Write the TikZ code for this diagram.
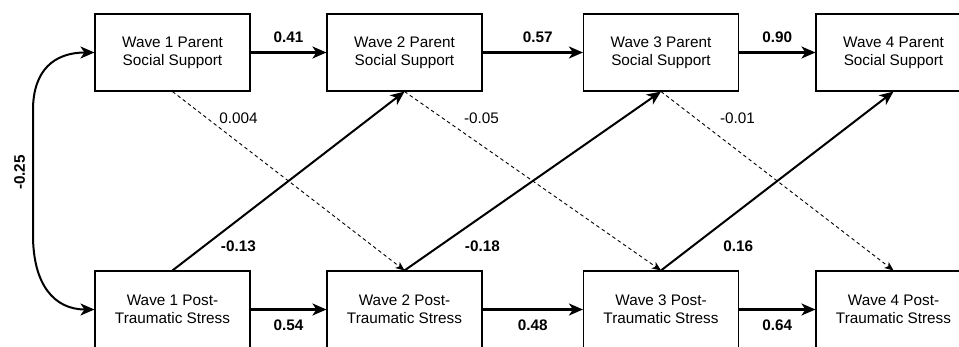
\documentclass[tikz,border=0pt]{standalone}
\usepackage{fontspec}
\setmainfont{Liberation Sans}
\usetikzlibrary{arrows.meta}

\begin{document}
\begin{tikzpicture}[x=1pt,y=1pt,
  box/.style={draw, line width=1.1pt, minimum width=155pt, minimum height=77pt,
    align=center, inner sep=0pt, font=\fontsize{15.3}{18}\selectfont},
  coef/.style={font=\fontsize{15.3}{18}\selectfont\bfseries, inner sep=0pt},
  weakcoef/.style={font=\fontsize{15.3}{18}\selectfont, inner sep=0pt},
  strong/.style={line width=2.2pt, -{Stealth[length=14pt,width=12pt,inset=4pt]}},
  weak/.style={line width=0.9pt, dash pattern=on 3.5pt off 3pt,
    -{Stealth[length=9pt,width=7.5pt,inset=2.5pt]}},
  corr/.style={line width=2pt, {Stealth[length=14pt,width=12pt,inset=4pt]}-{Stealth[length=14pt,width=12pt,inset=4pt]}}]
\useasboundingbox (0,0) rectangle (959,346);
\clip (0,0) rectangle (959,346);

\node [box] (w1pss) at (172.5,293.5) {Wave 1 Parent\\Social Support};
\node [box] (w2pss) at (404.5,293.5) {Wave 2 Parent\\Social Support};
\node [box] (w3pss) at (661,293.5) {Wave 3 Parent\\Social Support};
\node [box] (w4pss) at (893.5,293.5) {Wave 4 Parent\\Social Support};

\node [box] (w1pts) at (172.5,36.5) {Wave 1 Post-\\Traumatic Stress};
\node [box] (w2pts) at (404.5,36.5) {Wave 2 Post-\\Traumatic Stress};
\node [box] (w3pts) at (661,36.5) {Wave 3 Post-\\Traumatic Stress};
\node [box] (w4pts) at (893.5,36.5) {Wave 4 Post-\\Traumatic Stress};

% stability paths
\draw [strong] (w1pss.east) -- node [coef,above=9pt] {0.41} (w2pss.west);
\draw [strong] (w2pss.east) -- node [coef,pos=0.55,above=9pt] {0.57} (w3pss.west);
\draw [strong] (w3pss.east) -- node [coef,above=9pt] {0.90} (w4pss.west);

\draw [strong] (w1pts.east) -- node [coef,below=9pt] {0.54} (w2pts.west);
\draw [strong] (w2pts.east) -- node [coef,below=9pt] {0.48} (w3pts.west);
\draw [strong] (w3pts.east) -- node [coef,below=9pt] {0.64} (w4pts.west);

% cross-lagged paths
\draw [weak] (w1pss.south) -- node [weakcoef,pos=0.15,right=11.7pt] {0.004} (w2pts.north);
\draw [weak] (w2pss.south) -- node [weakcoef,pos=0.15,right=20.6pt] {-0.05} (w3pts.north);
\draw [weak] (w3pss.south) -- node [weakcoef,pos=0.15,right=23.7pt] {-0.01} (w4pts.north);

\draw [strong,line width=2pt] (w1pts.north) -- node [coef,pos=0.133,right=16.6pt] {-0.13} (w2pss.south);
\draw [strong,line width=2pt] (w2pts.north) -- node [coef,pos=0.133,right=25.3pt] {-0.18} (w3pss.south);
\draw [strong,line width=2pt] (w3pts.north) -- node [coef,pos=0.133,right=30.4pt] {0.16} (w4pss.south);

% wave 1 correlation
\coordinate (bendtop) at (33,236);
\coordinate (bendbot) at (33,111);
\draw [corr] (w1pss.west) .. controls +(-40,0) and +(0,40) .. (bendtop)
  -- node [coef,midway,rotate=90,anchor=south,inner sep=7pt] {-0.25} (bendbot)
  .. controls +(0,-50) and +(-40,0) .. (w1pts.west);
\end{tikzpicture}
\end{document}
